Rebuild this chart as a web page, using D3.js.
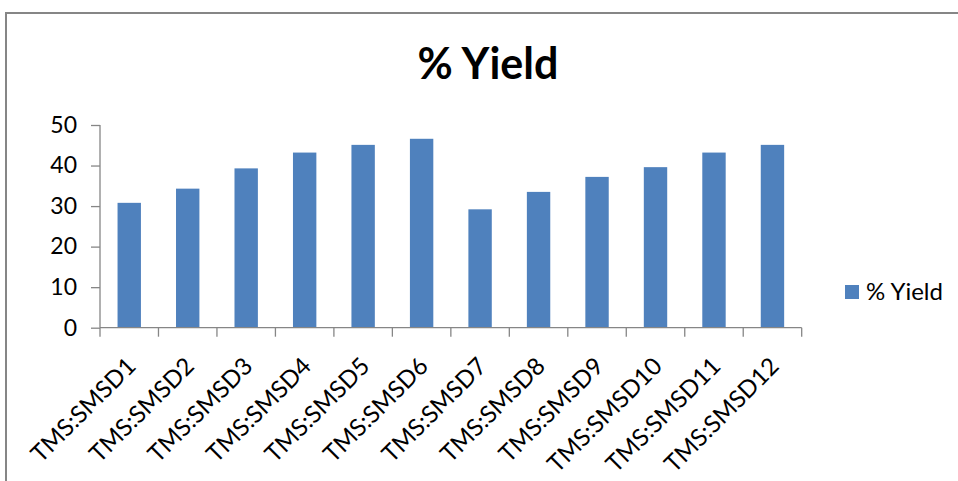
<!DOCTYPE html>
<html>
<head>
<meta charset="utf-8">
<script src="https://cdn.jsdelivr.net/npm/d3@7"></script>
<style>
  html, body { margin: 0; padding: 0; background: #fff; }
  svg { display: block; }
  text { font-family: Lato, "Open Sans", sans-serif; fill: #000; }
</style>
</head>
<body>
<svg id="chart" width="958" height="481"></svg>
<script>
// Samples and their yield (%)
const categories = ["TMS:SMSD1", "TMS:SMSD2", "TMS:SMSD3", "TMS:SMSD4", "TMS:SMSD5", "TMS:SMSD6",
                    "TMS:SMSD7", "TMS:SMSD8", "TMS:SMSD9", "TMS:SMSD10", "TMS:SMSD11", "TMS:SMSD12"];
const yieldValues = [30.8, 34.3, 39.3, 43.2, 45.1, 46.6, 29.2, 33.5, 37.2, 39.6, 43.2, 45.1];
const yTicks = [0, 10, 20, 30, 40, 50];
const seriesName = "% Yield";
const chartTitle = "% Yield";

const svg = d3.select("#chart");
const axisColor = "#868686";
const barColor = "#4f81bd";

// outer frame
svg.append("rect")
  .attr("x", 6).attr("y", 13)
  .attr("width", 980).attr("height", 500)
  .attr("fill", "none")
  .attr("stroke", axisColor)
  .attr("stroke-width", 2);

const plot = { left: 100, right: 801.7, top: 125, bottom: 327.7 };

const x = d3.scaleBand()
  .domain(categories)
  .range([plot.left, plot.right])
  .paddingInner(0.6)
  .paddingOuter(0.3);

const y = d3.scaleLinear()
  .domain([0, 50])
  .range([plot.bottom, plot.top]);

// title
svg.append("text")
  .attr("x", 488).attr("y", 79)
  .attr("text-anchor", "middle")
  .style("font-size", "43px")
  .style("font-weight", "bold")
  .text(chartTitle);

// bars
svg.append("g").selectAll("rect")
  .data(categories)
  .join("rect")
  .attr("x", d => x(d))
  .attr("width", x.bandwidth())
  .attr("y", (d, i) => y(yieldValues[i]))
  .attr("height", (d, i) => y(0) - y(yieldValues[i]))
  .attr("fill", barColor);

// y axis
const yAxis = svg.append("g")
  .attr("transform", `translate(${plot.left},0)`)
  .call(d3.axisLeft(y).tickValues(yTicks).tickSize(9).tickPadding(14).tickFormat(d3.format("d")));
yAxis.selectAll("line, path").attr("stroke", axisColor).attr("stroke-width", 1.3);
yAxis.select("path.domain").attr("d", `M0,${plot.top}V${plot.bottom}`);
yAxis.selectAll("text").style("font-size", "23px").attr("fill", "#000");

// x axis: ticks sit on the band boundaries
const step = x.step();
const boundaries = d3.range(categories.length + 1).map(i => plot.left + i * step);
const xAxisG = svg.append("g");
xAxisG.append("line")
  .attr("x1", plot.left).attr("x2", plot.right)
  .attr("y1", plot.bottom).attr("y2", plot.bottom)
  .attr("stroke", axisColor).attr("stroke-width", 1.3);
xAxisG.selectAll("line.tick")
  .data(boundaries)
  .join("line")
  .attr("class", "tick")
  .attr("x1", d => d).attr("x2", d => d)
  .attr("y1", plot.bottom).attr("y2", plot.bottom + 9)
  .attr("stroke", axisColor).attr("stroke-width", 1.3);

xAxisG.selectAll("text")
  .data(categories)
  .join("text")
  .attr("transform", d => `translate(${x(d) + x.bandwidth() / 2 + 8},${plot.bottom + 40}) rotate(-45)`)
  .attr("text-anchor", "end")
  .style("font-size", "24px")
  .text(d => d);

// legend
const legend = svg.append("g").attr("transform", "translate(845,285)");
legend.append("rect").attr("width", 14).attr("height", 14).attr("fill", barColor);
legend.append("text")
  .attr("x", 21).attr("y", 7).attr("dy", "0.35em")
  .style("font-size", "24px")
  .text(seriesName);
</script>
</body>
</html>
